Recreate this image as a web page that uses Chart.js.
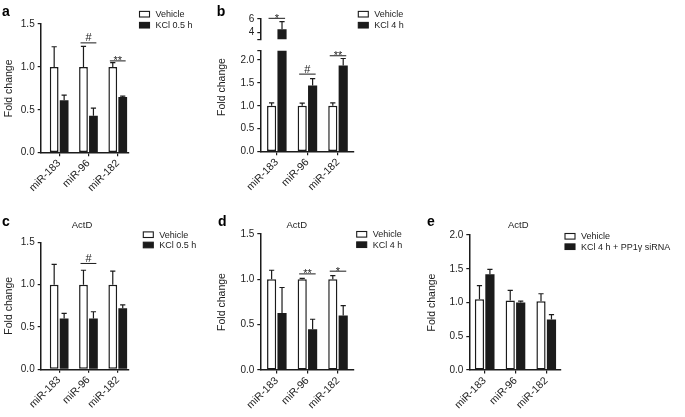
<!DOCTYPE html>
<html>
<head>
<meta charset="utf-8">
<script src="https://cdn.jsdelivr.net/npm/chart.js@4.4.1/dist/chart.umd.min.js"></script>
<style>
  body { margin: 0; background: #fff; width: 685px; height: 417px; position: relative; overflow: hidden; }
  canvas { position: absolute; }
</style>
</head>
<body>
<canvas id="pa"></canvas>
<canvas id="pbLow"></canvas>
<canvas id="pbHigh"></canvas>
<canvas id="pc"></canvas>
<canvas id="pd"></canvas>
<canvas id="pe"></canvas>
<script>
const categories = ['miR-183', 'miR-96', 'miR-182'];

// a: KCl 0.5 h
const vehA = [1.0, 1.0, 1.0];
const vehAErr = [0.235, 0.24, 0.05];
const kclA = [0.61, 0.43, 0.65];
const kclAErr = [0.06, 0.09, 0.01];
const sigA = ['', '#', '**'];
const sigAY = [null, 1.28, 1.07];

// b: KCl 4 h (split axis)
const vehB = [1.0, 1.0, 1.0];
const vehBErr = [0.065, 0.06, 0.065];
const kclB = [4.5, 1.44, 1.88];
const kclBErr = [1.1, 0.15, 0.15];
const sigB = ['*', '#', '**'];
const sigBY = [6.1, 1.69, 2.09];

// c: ActD, KCl 0.5 h
const vehC = [1.0, 1.0, 1.0];
const vehCErr = [0.24, 0.17, 0.16];
const kclC = [0.60, 0.60, 0.72];
const kclCErr = [0.06, 0.08, 0.04];
const sigC = ['', '#', ''];
const sigCY = [null, 1.25, null];

// d: ActD, KCl 4 h
const vehD = [1.0, 1.0, 1.0];
const vehDErr = [0.10, 0.01, 0.04];
const kclD = [0.63, 0.45, 0.60];
const kclDErr = [0.28, 0.11, 0.11];
const sigD = ['', '**', '*'];
const sigDY = [null, 1.06, 1.09];

// e: ActD, KCl 4 h + PP1γ siRNA
const vehE = [1.05, 1.03, 1.02];
const vehEErr = [0.20, 0.15, 0.11];
const kclE = [1.42, 1.00, 0.75];
const kclEErr = [0.07, 0.02, 0.07];
const sigE = ['', '', ''];
const sigEY = [null, null, null];

const yTicks15 = [0, 0.5, 1.0, 1.5];
const yTicksBLow = [0, 0.5, 1.0, 1.5, 2.0];
const yTicksBHigh = [4, 6];
const yTicks20 = [0, 0.5, 1.0, 1.5, 2.0];

const INK = '#1b1b1b';
const FONT = "'Liberation Sans', Arial, sans-serif";

function makePlugin(cfg) {
  return {
    id: 'decor_' + cfg.id,
    afterDatasetsDraw(chart) {
      const ctx = chart.ctx, xs = chart.scales.x, ys = chart.scales.y;
      ctx.save();
      ctx.strokeStyle = INK;
      ctx.fillStyle = INK;
      // error bars (upper only)
      chart.data.datasets.forEach((ds, d) => {
        const meta = chart.getDatasetMeta(d);
        meta.data.forEach((bar, i) => {
          const v = ds.data[i].y;
          if (v === null || v > ys.max || v < ys.min) return;
          const top = ys.getPixelForValue(v + ds.err[i]);
          ctx.lineWidth = 1.2;
          ctx.beginPath();
          ctx.moveTo(bar.x, bar.y);
          ctx.lineTo(bar.x, top);
          ctx.moveTo(bar.x - 2.6, top);
          ctx.lineTo(bar.x + 2.6, top);
          ctx.stroke();
        });
      });
      // significance marks
      ctx.font = '11px ' + FONT;
      ctx.textAlign = 'center';
      ctx.textBaseline = 'alphabetic';
      cfg.sig.forEach((s, i) => {
        const v = cfg.sigY[i];
        if (!s || v < ys.min || v > ys.max + 0.1 * (ys.max - ys.min)) return;
        const y = ys.getPixelForValue(v);
        const x1 = xs.getPixelForValue(i - 0.27), x2 = xs.getPixelForValue(i + 0.27);
        ctx.lineWidth = 1;
        ctx.beginPath();
        ctx.moveTo(x1, y);
        ctx.lineTo(x2, y);
        ctx.stroke();
        ctx.fillText(s, (x1 + x2) / 2, s.includes('*') ? y + 3.5 : y - 1.5);
      });
      ctx.restore();
    },
    afterDraw(chart) {
      if (!cfg.decor) return;
      const ctx = chart.ctx;
      ctx.save();
      // panel letter
      ctx.fillStyle = '#000';
      ctx.font = 'bold 14px ' + FONT;
      ctx.textAlign = 'left';
      ctx.textBaseline = 'alphabetic';
      ctx.fillText(cfg.letter, cfg.letterX, 15.5);
      // panel title
      if (cfg.title) {
        ctx.fillStyle = '#222';
        ctx.font = '9.5px ' + FONT;
        ctx.textAlign = 'center';
        ctx.textBaseline = 'middle';
        ctx.fillText(cfg.title, cfg.titleX, 15);
      }
      // y title spanning a split axis
      if (cfg.yTitleAt) {
        ctx.save();
        ctx.fillStyle = '#222';
        ctx.font = '10.5px ' + FONT;
        ctx.translate(cfg.yTitleAt[0], cfg.yTitleAt[1]);
        ctx.rotate(-Math.PI / 2);
        ctx.textAlign = 'center';
        ctx.textBaseline = 'middle';
        ctx.fillText('Fold change', 0, 0);
        ctx.restore();
      }
      // legend
      const L = cfg.legend;
      chart.data.datasets.forEach((ds, d) => {
        const cy = L.y + d * L.dy;
        ctx.fillStyle = ds.backgroundColor;
        ctx.fillRect(L.x, cy - 2.8, 10, 5.6);
        ctx.strokeStyle = INK;
        ctx.lineWidth = 1.1;
        ctx.strokeRect(L.x, cy - 2.8, 10, 5.6);
        ctx.fillStyle = '#222';
        ctx.font = '9px ' + FONT;
        ctx.textAlign = 'left';
        ctx.textBaseline = 'middle';
        ctx.fillText(ds.label, L.x + 16, cy + 0.5);
      });
      ctx.restore();
    }
  };
}

function buildChart(cfg) {
  const cv = document.getElementById(cfg.id);
  cv.width = cfg.width;
  cv.height = cfg.height;
  cv.style.left = cfg.left + 'px';
  cv.style.top = cfg.top + 'px';
  const A = cfg.area;
  const keep = v => (v >= cfg.yMin ? v : null);
  const tickVals = [...new Set([cfg.yMin, ...cfg.yTicks, cfg.yMax])].sort((p, q) => p - q);

  new Chart(cv, {
    type: 'bar',
    data: {
      datasets: [
        {
          label: 'Vehicle',
          data: cfg.veh.map((v, i) => ({ x: i, y: keep(v) })),
          err: cfg.vehErr,
          backgroundColor: '#ffffff',
          borderColor: INK,
          borderWidth: 1.5,
          borderSkipped: false,
          barPercentage: 0.88,
          categoryPercentage: 0.68
        },
        {
          label: cfg.kclLabel,
          data: cfg.kcl.map((v, i) => ({ x: i, y: keep(v) })),
          err: cfg.kclErr,
          backgroundColor: INK,
          borderColor: INK,
          borderWidth: 0,
          barPercentage: 0.88,
          categoryPercentage: 0.68
        }
      ]
    },
    options: {
      responsive: false,
      animation: false,
      devicePixelRatio: 1,
      layout: {
        padding: {
          left: 0,
          top: A.t,
          right: cfg.width - A.r,
          bottom: cfg.xAxis ? 0 : cfg.height - A.b
        }
      },
      plugins: { legend: { display: false }, tooltip: { enabled: false } },
      scales: {
        x: {
          type: 'linear',
          offset: false,
          min: cfg.xMin,
          max: cfg.xMax,
          display: cfg.xAxis,
          afterFit: s => { s.height = cfg.xAxis ? cfg.height - A.b : 0; },
          afterBuildTicks: s => { s.ticks = categories.map((c, i) => ({ value: i })); },
          ticks: {
            callback: v => categories[v],
            autoSkip: false,
            minRotation: 45,
            maxRotation: 45,
            padding: 1,
            color: '#222',
            font: { family: FONT, size: 10.5 }
          },
          grid: { offset: false, drawOnChartArea: false, drawTicks: true, tickLength: 3.5, color: INK, lineWidth: 1.2 },
          border: { display: true, color: INK, width: 1.5 }
        },
        y: {
          min: cfg.yMin,
          max: cfg.yMax,
          afterFit: s => { s.width = A.l; },
          afterBuildTicks: s => { s.ticks = tickVals.map(v => ({ value: v })); },
          ticks: {
            callback: v => (cfg.yTicks.includes(v) ? cfg.fmt(v) : ''),
            autoSkip: false,
            padding: 3,
            color: '#222',
            font: { family: FONT, size: 10 }
          },
          grid: { drawOnChartArea: false, drawTicks: true, tickLength: 3, color: INK, lineWidth: 1.2 },
          border: { display: true, color: INK, width: 1.5 },
          title: {
            display: cfg.yTitle,
            text: 'Fold change',
            color: '#222',
            font: { family: FONT, size: 10.5 },
            padding: { top: cfg.titlePad, bottom: 0 }
          }
        }
      }
    },
    plugins: [makePlugin(cfg)]
  });
}

const fix1 = v => v.toFixed(1);

buildChart({
  id: 'pa', left: 0, top: 0, width: 215, height: 210,
  area: { l: 40.7, r: 128.3, t: 24, b: 152.7 }, xMin: -0.63, xMax: 2.36,
  yMin: 0, yMax: 1.5, yTicks: yTicks15, fmt: fix1, xAxis: true, yTitle: true, titlePad: 2.7,
  veh: vehA, vehErr: vehAErr, kcl: kclA, kclErr: kclAErr, kclLabel: 'KCl 0.5 h',
  sig: sigA, sigY: sigAY, decor: true, letter: 'a', letterX: 2,
  legend: { x: 139.5, y: 14.2, dy: 11 }
});

buildChart({
  id: 'pbLow', left: 215, top: 0, width: 240, height: 210,
  area: { l: 45.3, r: 138.3, t: 50.7, b: 151.7 }, xMin: -0.54, xMax: 2.5,
  yMin: 0, yMax: 2.2, yTicks: yTicksBLow, fmt: fix1, xAxis: true, yTitle: false, titlePad: 0,
  veh: vehB, vehErr: vehBErr, kcl: kclB, kclErr: kclBErr, kclLabel: 'KCl 4 h',
  sig: sigB, sigY: sigBY, decor: true, letter: 'b', letterX: 1.7, yTitleAt: [7, 87],
  legend: { x: 143.3, y: 14.2, dy: 11 }
});

buildChart({
  id: 'pbHigh', left: 215, top: 0, width: 240, height: 210,
  area: { l: 45.3, r: 138.3, t: 19, b: 39.3 }, xMin: -0.54, xMax: 2.5,
  yMin: 3, yMax: 6, yTicks: yTicksBHigh, fmt: v => String(v), xAxis: false, yTitle: false, titlePad: 0,
  veh: vehB, vehErr: vehBErr, kcl: kclB, kclErr: kclBErr, kclLabel: 'KCl 4 h',
  sig: sigB, sigY: sigBY, decor: false
});

buildChart({
  id: 'pc', left: 0, top: 210, width: 215, height: 207,
  area: { l: 40.7, r: 128.3, t: 32.3, b: 159.3 }, xMin: -0.63, xMax: 2.36,
  yMin: 0, yMax: 1.5, yTicks: yTicks15, fmt: fix1, xAxis: true, yTitle: true, titlePad: 2.7,
  veh: vehC, vehErr: vehCErr, kcl: kclC, kclErr: kclCErr, kclLabel: 'KCl 0.5 h',
  sig: sigC, sigY: sigCY, decor: true, letter: 'c', letterX: 2, title: 'ActD', titleX: 82,
  legend: { x: 143.3, y: 24.7, dy: 10.3 }
});

buildChart({
  id: 'pd', left: 215, top: 210, width: 210, height: 207,
  area: { l: 45.3, r: 138.3, t: 24, b: 160 }, xMin: -0.54, xMax: 2.5,
  yMin: 0, yMax: 1.5, yTicks: yTicks15, fmt: fix1, xAxis: true, yTitle: true, titlePad: 0.7,
  veh: vehD, vehErr: vehDErr, kcl: kclD, kclErr: kclDErr, kclLabel: 'KCl 4 h',
  sig: sigD, sigY: sigDY, decor: true, letter: 'd', letterX: 3, title: 'ActD', titleX: 81.7,
  legend: { x: 141.7, y: 24.3, dy: 10.4 }
});

buildChart({
  id: 'pe', left: 425, top: 210, width: 260, height: 207,
  area: { l: 44.3, r: 135.7, t: 25, b: 160 }, xMin: -0.5, xMax: 2.47,
  yMin: 0, yMax: 2.0, yTicks: yTicks20, fmt: fix1, xAxis: true, yTitle: true, titlePad: 0.7,
  veh: vehE, vehErr: vehEErr, kcl: kclE, kclErr: kclEErr, kclLabel: 'KCl 4 h + PP1γ siRNA',
  sig: sigE, sigY: sigEY, decor: true, letter: 'e', letterX: 2, title: 'ActD', titleX: 93.3,
  legend: { x: 140, y: 26.3, dy: 10.4 }
});
</script>
</body>
</html>
